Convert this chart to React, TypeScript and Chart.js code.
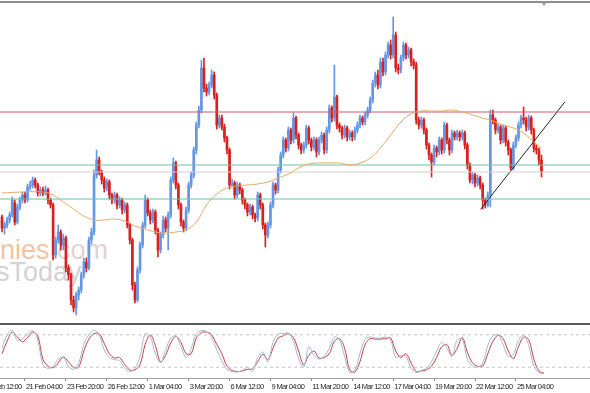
import React, { useEffect, useRef } from "react";
import { Chart, registerables } from "chart.js";

Chart.register(...registerables);

// Candle prices (chart units), one entry per 4-hour bar
const opens = [
  103, 92, 95, 100, 105, 117, 98, 113, 120, 125,
  120, 133, 135, 140, 135, 127, 130, 127, 130, 120,
  115, 65, 80, 88, 75, 82, 52, 45, 20, 12,
  25, 30, 45, 58, 52, 80, 88, 145, 160, 148,
  140, 132, 138, 125, 120, 125, 115, 120, 110, 115,
  95, 80, 35, 20, 50, 75, 95, 120, 107, 100,
  108, 90, 70, 85, 100, 92, 105, 140, 157, 135,
  115, 98, 92, 110, 135, 145, 170, 195, 210, 252,
  232, 228, 235, 245, 225, 195, 202, 193, 182, 170,
  135, 137, 125, 135, 130, 120, 115, 108, 113, 105,
  102, 125, 115, 95, 85, 95, 115, 135, 130, 150,
  165, 180, 172, 190, 180, 202, 185, 175, 170, 175,
  192, 180, 173, 180, 168, 180, 185, 170, 190, 212,
  202, 223, 195, 192, 185, 192, 183, 187, 183, 190,
  195, 202, 198, 205, 210, 220, 237, 245, 235, 258,
  248, 265, 275, 265, 285, 252, 250, 262, 275, 265,
  270, 258, 255, 200, 195, 200, 190, 175, 165, 158,
  172, 168, 180, 170, 195, 180, 170, 187, 183, 187,
  183, 187, 175, 155, 140, 145, 137, 142, 135, 120,
  115, 125, 205, 200, 190, 193, 180, 192, 178, 170,
  152, 175, 182, 195, 202, 200, 193, 202, 190, 172,
  170, 160,
];
const highs = [
  105, 98, 103, 108, 123, 120, 116, 123, 128, 128,
  136, 139, 143, 142, 137, 133, 133, 134, 132, 122,
  117, 83, 95, 90, 86, 84, 55, 47, 24, 28,
  33, 48, 62, 62, 83, 92, 150, 170, 163, 150,
  143, 141, 140, 127, 128, 127, 123, 122, 118, 117,
  97, 82, 38, 53, 78, 98, 125, 122, 110, 111,
  110, 92, 88, 104, 103, 108, 143, 162, 159, 137,
  117, 100, 113, 138, 148, 173, 198, 214, 260, 262,
  236, 238, 250, 248, 227, 205, 205, 196, 184, 172,
  141, 139, 138, 137, 132, 122, 117, 116, 115, 107,
  128, 127, 117, 97, 98, 118, 138, 137, 153, 168,
  183, 182, 193, 192, 207, 204, 187, 177, 178, 195,
  194, 182, 183, 182, 183, 188, 187, 193, 215, 214,
  255, 225, 197, 194, 195, 194, 190, 189, 193, 198,
  205, 204, 208, 213, 223, 240, 248, 250, 262, 262,
  268, 278, 280, 303, 288, 256, 265, 278, 277, 273,
  272, 261, 258, 203, 203, 202, 192, 177, 167, 175,
  174, 183, 182, 198, 197, 182, 190, 189, 190, 189,
  190, 189, 177, 157, 148, 147, 145, 144, 137, 122,
  128, 210, 210, 202, 196, 195, 195, 194, 180, 172,
  178, 185, 198, 205, 213, 203, 205, 204, 192, 175,
  172, 165,
];
const lows = [
  88, 86, 92, 97, 103, 95, 96, 110, 117, 117,
  118, 130, 132, 132, 124, 124, 124, 125, 116, 112,
  60, 62, 77, 70, 70, 48, 40, 15, 8, 5,
  20, 27, 42, 48, 50, 76, 85, 142, 145, 136,
  128, 129, 121, 116, 117, 111, 112, 106, 107, 92,
  76, 30, 17, 18, 47, 72, 92, 104, 96, 97,
  86, 63, 67, 82, 88, 70, 102, 137, 131, 111,
  94, 88, 89, 107, 132, 142, 166, 192, 207, 228,
  224, 225, 232, 221, 191, 192, 190, 178, 166, 131,
  133, 121, 122, 126, 116, 111, 104, 105, 101, 98,
  99, 111, 91, 73, 82, 92, 112, 126, 127, 147,
  162, 168, 169, 176, 177, 181, 171, 166, 167, 172,
  176, 169, 170, 163, 165, 177, 166, 167, 187, 198,
  199, 191, 188, 181, 182, 179, 180, 179, 180, 187,
  192, 195, 195, 202, 207, 217, 233, 231, 232, 244,
  245, 262, 261, 262, 248, 246, 247, 259, 261, 262,
  254, 251, 196, 191, 192, 186, 171, 160, 143, 155,
  163, 165, 166, 167, 176, 165, 167, 180, 180, 179,
  180, 171, 151, 137, 136, 133, 134, 131, 111, 112,
  113, 113, 196, 186, 187, 176, 177, 174, 165, 150,
  150, 172, 179, 192, 196, 189, 190, 186, 168, 166,
  155, 143,
];
const closes = [
  92, 95, 100, 105, 120, 98, 113, 120, 125, 120,
  133, 135, 140, 135, 127, 130, 127, 130, 120, 115,
  65, 80, 88, 75, 82, 52, 45, 20, 12, 25,
  30, 45, 58, 52, 80, 88, 145, 160, 148, 140,
  132, 138, 125, 120, 125, 115, 120, 110, 115, 95,
  80, 35, 20, 50, 75, 95, 120, 107, 100, 108,
  90, 70, 85, 100, 92, 105, 140, 157, 135, 115,
  98, 92, 110, 135, 145, 170, 195, 210, 252, 232,
  228, 235, 245, 225, 195, 202, 193, 182, 170, 135,
  137, 125, 135, 130, 120, 115, 108, 113, 105, 102,
  125, 115, 95, 85, 95, 115, 135, 130, 150, 165,
  180, 172, 190, 180, 202, 185, 175, 170, 175, 192,
  180, 173, 180, 168, 180, 185, 170, 190, 212, 202,
  223, 195, 192, 185, 192, 183, 187, 183, 190, 195,
  202, 198, 205, 210, 220, 237, 245, 235, 258, 248,
  265, 275, 265, 285, 252, 250, 262, 275, 265, 270,
  258, 255, 200, 195, 200, 190, 175, 165, 158, 172,
  168, 180, 170, 195, 180, 170, 187, 183, 187, 183,
  187, 175, 155, 140, 145, 137, 142, 135, 120, 115,
  125, 205, 200, 190, 193, 180, 192, 178, 170, 152,
  175, 182, 195, 202, 200, 193, 202, 190, 172, 170,
  160, 148,
];

// Moving average read at selected bars
const maBars = [0, 8, 16, 20, 24, 28, 32, 36, 40, 44, 48, 52, 56, 60, 64, 68, 72, 76, 80, 84, 88, 92, 96, 100, 104, 108, 112, 116, 120, 124, 128, 132, 136, 140, 144, 148, 152, 156, 160, 164, 168, 172, 176, 180, 184, 188, 192, 196, 200, 204, 208, 211];
const maValues = [127, 128, 128, 125, 118, 111, 104, 100, 100, 101, 99, 94, 91, 88, 87, 88, 90, 98, 115, 126, 132, 134, 135, 136, 138, 142, 146, 152, 156, 157, 157, 157, 155, 157, 162, 172, 185, 198, 206, 209, 209, 209, 210, 208, 205, 202, 199, 195, 192, 187, 178, 172];

// Horizontal levels
const resistanceLevel = 208;
const upperSupportLevel = 155;
const pivotLevel = 148;
const lowerSupportLevel = 121;

// Trend line (bar, price)
const trendStart = [187.2, 110.7];
const trendEnd = [220.2, 218.3];

// Stochastic oscillator, one value every 2 bars
const stochMain = [
  55, 80, 88, 70, 72, 82, 88, 70, 25, 18,
  22, 35, 38, 22, 16, 28, 62, 80, 88, 80,
  52, 38, 34, 32, 18, 12, 18, 40, 82, 76,
  45, 28, 52, 74, 78, 58, 38, 55, 82, 88,
  86, 75, 52, 32, 16, 12, 11, 14, 20, 12,
  38, 48, 30, 66, 82, 82, 83, 68, 36, 20,
  58, 42, 35, 40, 55, 76, 70, 40, 10, 14,
  45, 72, 76, 74, 74, 76, 70, 38, 42, 40,
  18, 10, 14, 18, 30, 50, 66, 55, 40, 70,
  72, 35, 22, 20, 28, 60, 78, 80, 62, 40,
  44, 70, 80, 60, 22, 10, 8,
];
const stochSignal = [
  45, 68, 85, 76, 67, 75, 85, 78, 35, 22,
  19, 28, 39, 30, 20, 20, 50, 72, 82, 82,
  64, 45, 37, 38, 25, 15, 15, 25, 62, 80,
  60, 30, 42, 65, 77, 66, 45, 45, 74, 84,
  85, 80, 62, 45, 22, 14, 12, 13, 16, 17,
  30, 44, 34, 55, 74, 78, 82, 75, 50, 25,
  42, 50, 37, 38, 45, 68, 73, 55, 15, 11,
  30, 62, 73, 72, 72, 73, 74, 50, 38, 45,
  28, 12, 13, 15, 22, 38, 58, 62, 42, 55,
  75, 48, 28, 22, 22, 45, 68, 79, 73, 50,
  36, 58, 76, 71, 35, 13, 9,
];
const stochLevels = [80, 20];

// Time axis labels and the bars they sit on
const timeLabels = ["18 Feb 12:00", "21 Feb 04:00", "23 Feb 20:00", "26 Feb 12:00", "1 Mar 04:00", "3 Mar 20:00", "6 Mar 12:00", "9 Mar 04:00", "11 Mar 20:00", "14 Mar 12:00", "17 Mar 04:00", "19 Mar 20:00", "22 Mar 12:00", "25 Mar 04:00"];
const labelBars = [-7, 9, 25, 41, 57, 73, 89, 105, 121, 137, 153, 169, 185, 201];

const X_MIN = -0.774;
const X_MAX = 229.97;
const UP = "#6496e6";
const DOWN = "#d8201e";

const condensedText = {
  id: "condensedText",
  beforeDraw(chart: any) {
    try {
      chart.ctx.letterSpacing = "-0.65px";
    } catch (e) {
      /* ignore */
    }
  },
};

export default function App() {
  const mainRef = useRef<HTMLCanvasElement>(null);
  const subRef = useRef<HTMLCanvasElement>(null);

  useEffect(() => {
    const idx = opens.map((_, i) => i);
    const colors = idx.map((i) => (closes[i] >= opens[i] ? UP : DOWN));
    const hline = (y: number, color: string) => ({
      type: "line" as const,
      data: [{ x: X_MIN, y }, { x: X_MAX, y }],
      borderColor: color,
      borderWidth: 1,
      pointRadius: 0,
      order: 0,
    });
    const main = new Chart(mainRef.current!, {
      type: "bar",
      data: {
        datasets: [
          {
            type: "line",
            data: maBars.map((b, k) => ({ x: b, y: maValues[k] })),
            borderColor: "#e6a864",
            borderWidth: 1,
            pointRadius: 0,
            tension: 0.4,
            order: 0,
          } as any,
          hline(resistanceLevel, "#cf5a68"),
          hline(upperSupportLevel, "#6cc0a0"),
          hline(pivotLevel, "#cfcfcf"),
          hline(lowerSupportLevel, "#6cc0a0"),
          {
            type: "line",
            data: [
              { x: trendStart[0], y: trendStart[1] },
              { x: trendEnd[0], y: trendEnd[1] },
            ],
            borderColor: "#222222",
            borderWidth: 1,
            pointRadius: 0,
            order: 0,
          },
          {
            type: "bar",
            data: idx.map((i) => ({ x: i, y: [lows[i], highs[i]] })),
            backgroundColor: colors,
            barThickness: 1,
            grouped: false,
            order: 2,
          } as any,
          {
            type: "bar",
            data: idx.map((i) => ({ x: i, y: [opens[i], closes[i]] })),
            backgroundColor: colors,
            barThickness: 2,
            grouped: false,
            order: 1,
          } as any,
        ],
      },
      options: {
        animation: false,
        responsive: false,
        maintainAspectRatio: false,
        events: [],
        layout: { padding: 0 },
        plugins: { legend: { display: false }, tooltip: { enabled: false } },
        scales: {
          x: { type: "linear", min: X_MIN, max: X_MAX, display: false, offset: false },
          y: { type: "linear", min: 0, max: 320, display: false },
        },
      },
    });

    const sub = new Chart(subRef.current!, {
      type: "line",
      plugins: [condensedText],
      data: {
        datasets: [
          ...stochLevels.map((lv) => ({
            data: [{ x: X_MIN, y: lv }, { x: X_MAX, y: lv }],
            borderColor: "#c4c4c4",
            borderDash: [3, 3],
            borderWidth: 1,
            pointRadius: 0,
          })),
          {
            data: stochMain.map((v, k) => ({ x: 2 * k, y: v })),
            borderColor: "#9fb9d6",
            borderWidth: 1,
            pointRadius: 0,
            tension: 0.35,
          },
          {
            data: stochSignal.map((v, k) => ({ x: 2 * k, y: v })),
            borderColor: "#c2403f",
            borderWidth: 1,
            pointRadius: 0,
            tension: 0.35,
          },
        ],
      },
      options: {
        animation: false,
        responsive: false,
        maintainAspectRatio: false,
        events: [],
        layout: { padding: 0 },
        plugins: { legend: { display: false }, tooltip: { enabled: false } },
        scales: {
          x: {
            type: "linear",
            min: X_MIN,
            max: X_MAX,
            offset: false,
            afterBuildTicks: (axis: any) => {
              axis.ticks = labelBars.map((v) => ({ value: v }));
            },
            afterFit: (axis: any) => {
              axis.height = 15;
              axis.paddingLeft = 0;
              axis.paddingRight = 0;
            },
            ticks: {
              autoSkip: false,
              maxRotation: 0,
              minRotation: 0,
              align: "start",
              padding: 1,
              labelOffset: 1,
              color: "#1e1e1e",
              font: { family: "'Liberation Sans', sans-serif", size: 7.5 },
              callback: (_v: any, i: number) => timeLabels[i],
            },
            grid: { drawOnChartArea: false, drawTicks: true, tickLength: 3, color: "#8a8a8a" },
            border: { display: true, color: "#a0a0a0" },
          } as any,
          y: { type: "linear", min: 0, max: 100, display: false },
        },
      },
    });

    return () => {
      main.destroy();
      sub.destroy();
    };
  }, []);

  return (
    <div
      style={{
        position: "fixed",
        left: 0,
        top: 0,
        width: 590,
        height: 393,
        background: "#ffffff",
        overflow: "hidden",
        fontFamily: "'Liberation Sans', Arial, sans-serif",
      }}
    >
      <div
        style={{
          position: "absolute",
          left: 0,
          top: 237,
          fontSize: 27,
          lineHeight: "27px",
          whiteSpace: "nowrap",
          color: "#f4c3a4",
        }}
      >
        nies<span style={{ color: "#e2d3d1" }}>.com</span>
      </div>
      <div
        style={{
          position: "absolute",
          left: -4,
          top: 259,
          fontSize: 27,
          lineHeight: "27px",
          whiteSpace: "nowrap",
          color: "#d2d2d2",
        }}
      >
        sToday
      </div>
      <canvas
        ref={mainRef}
        width={590}
        height={320}
        style={{ position: "absolute", left: 0, top: 0, width: 590, height: 320 }}
      />
      <canvas
        ref={subRef}
        width={590}
        height={69}
        style={{ position: "absolute", left: 0, top: 324, width: 590, height: 69 }}
      />
      <div style={{ position: "absolute", left: 0, top: 1, width: 590, height: 2, background: "#8e8e8e" }} />
      <div style={{ position: "absolute", left: 0, top: 323, width: 590, height: 2, background: "#5a5a5a" }} />
      <div
        style={{
          position: "absolute",
          left: 541,
          top: 2,
          width: 0,
          height: 0,
          borderLeft: "3px solid transparent",
          borderRight: "3px solid transparent",
          borderTop: "4px solid #9a9a9a",
        }}
      />
    </div>
  );
}
